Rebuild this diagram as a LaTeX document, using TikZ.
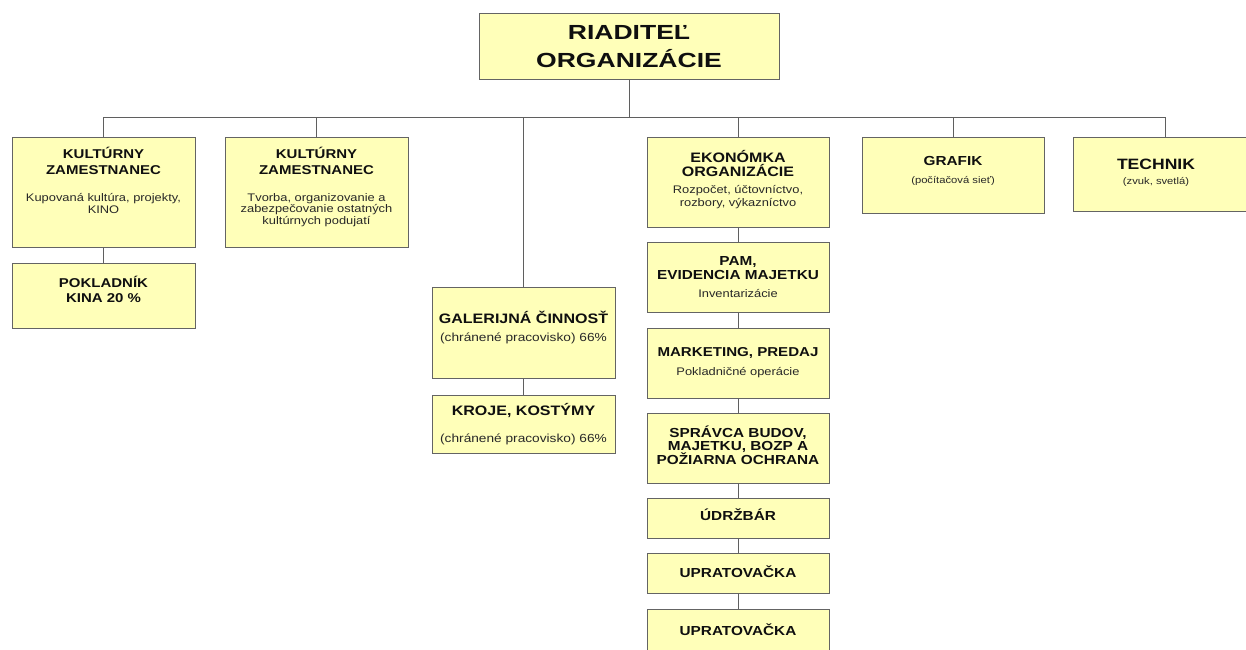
\documentclass[tikz,border=0pt]{standalone}
\usepackage{fontspec}
\setmainfont{Liberation Sans}
\newfontfamily\bodyf[FakeStretch=1.17]{Liberation Sans}
\newfontfamily\titlef[FakeStretch=1.3]{Liberation Sans}
\definecolor{boxfill}{RGB}{255,255,185}
\definecolor{boxdraw}{RGB}{100,100,100}
\definecolor{linec}{RGB}{95,95,95}
\definecolor{txt}{RGB}{15,15,15}
\definecolor{txt2}{RGB}{40,40,40}
\newcommand{\hfs}[2]{\bodyf\bfseries\fontsize{#1}{#2}\selectfont}
\newcommand{\sfs}[2]{\bodyf\fontsize{#1}{#2}\selectfont}
\begin{document}
\begin{tikzpicture}[x=1pt,y=-1pt,
  box/.style={draw=boxdraw, fill=boxfill, line width=1pt, inner sep=0pt, rectangle},
  conn/.style={draw=linec, line width=0.9pt},
  hd/.style={align=center, inner sep=0pt, text=txt, font=\hfs{12.8}{14}},
  sub/.style={align=center, inner sep=0pt, text=txt2, font=\sfs{11}{11.6}},
  ttl/.style={align=center, inner sep=0pt, text=txt, font=\titlef\bfseries\fontsize{20.4}{28}\selectfont}]
\useasboundingbox (0,0) rectangle (1246,649);

% boxes
\node[box, minimum width=300pt, minimum height=66pt] (dir) at (629,46) {};
\node[box, minimum width=183pt, minimum height=110pt] (k1) at (103.5,192) {};
\node[box, minimum width=183pt, minimum height=65pt] (pok) at (103.5,295.5) {};
\node[box, minimum width=183pt, minimum height=110pt] (k2) at (316.5,192) {};
\node[box, minimum width=183pt, minimum height=91pt] (gal) at (523.5,332.5) {};
\node[box, minimum width=183pt, minimum height=58pt] (kro) at (523.5,424) {};
\node[box, minimum width=182pt, minimum height=90pt] (eko) at (738,182) {};
\node[box, minimum width=182pt, minimum height=70pt] (pam) at (738,277) {};
\node[box, minimum width=182pt, minimum height=70pt] (mkt) at (738,363) {};
\node[box, minimum width=182pt, minimum height=70pt] (spr) at (738,448) {};
\node[box, minimum width=182pt, minimum height=40pt] (udr) at (738,518) {};
\node[box, minimum width=182pt, minimum height=40pt] (up1) at (738,573) {};
\node[box, minimum width=182pt, minimum height=46pt] (up2) at (738,632) {};
\node[box, minimum width=182pt, minimum height=76pt] (gra) at (953,175) {};
\node[box, minimum width=189pt, minimum height=74pt] (tec) at (1167.5,174) {};

% connectors
\coordinate (bus) at (629,117);
\draw[conn] (dir.south) -- (bus);
\draw[conn] (bus) -| (k1.north);
\draw[conn] (bus) -| (k2.north);
\draw[conn] (bus) -| (gal.north);
\draw[conn] (bus) -| (eko.north);
\draw[conn] (bus) -| (gra.north);
\draw[conn] (bus) -| (1165,137) coordinate (tecin);
\draw[conn] (k1.south) -- (pok.north);
\draw[conn] (gal.south) -- (kro.north);
\draw[conn] (eko.south) -- (pam.north);
\draw[conn] (pam.south) -- (mkt.north);
\draw[conn] (mkt.south) -- (spr.north);
\draw[conn] (spr.south) -- (udr.north);
\draw[conn] (udr.south) -- (up1.north);
\draw[conn] (up1.south) -- (up2.north);

% texts
\node[ttl, anchor=north] (dirT) at (629,19.5) {\rule{0pt}{19.5pt}RIADITEĽ\\ORGANIZÁCIE};

\node[hd, anchor=north, font=\hfs{12.8}{16.5}] (k1T) at (103.5,146) {\rule{0pt}{12pt}KULTÚRNY\\ZAMESTNANEC};
\node[sub, anchor=north] (k1S) at (103.5,191.5) {\rule{0pt}{10pt}Kupovaná kultúra, projekty,\\KINO};
\node[hd, anchor=north, font=\hfs{12.8}{16.5}] (k2T) at (316.5,146) {\rule{0pt}{12pt}KULTÚRNY\\ZAMESTNANEC};
\node[sub, anchor=north] (k2S) at (316.5,191) {\rule{0pt}{10pt}Tvorba, organizovanie a\\zabezpečovanie ostatných\\kultúrnych podujatí};
\node[hd, anchor=north, font=\hfs{12.8}{15}] (pokT) at (103.5,275) {\rule{0pt}{12pt}POKLADNÍK\\KINA 20 \%};

\node[hd, anchor=base, font=\hfs{13.7}{14}] (galT) at (523.5,323.5) {GALERIJNÁ ČINNOSŤ};
\node[sub, anchor=base, font=\sfs{11.7}{12}] (galS) at (523.5,341.5) {(chránené pracovisko) 66\%};
\node[hd, anchor=base, font=\hfs{13.7}{14}] (kroT) at (523.5,415) {KROJE, KOSTÝMY};
\node[sub, anchor=base, font=\sfs{11.7}{12}] (kroS) at (523.5,442) {(chránené pracovisko) 66\%};

\node[hd, anchor=north, font=\hfs{13.7}{14}] (ekoT) at (738,149.2) {\rule{0pt}{12.8pt}EKONÓMKA\\ORGANIZÁCIE};
\node[sub, anchor=north, font=\sfs{11}{13}] (ekoS) at (738,183) {\rule{0pt}{10pt}Rozpočet, účtovníctvo,\\rozbory, výkazníctvo};
\node[hd, anchor=north, font=\hfs{13.1}{14}] (pamT) at (738,252.7) {\rule{0pt}{12.3pt}PAM,\\EVIDENCIA MAJETKU};
\node[sub, anchor=base] (pamS) at (738,297) {Inventarizácie};
\node[hd, anchor=base, font=\hfs{12.9}{14}] (mktT) at (738,356) {MARKETING, PREDAJ};
\node[sub, anchor=base] (mktS) at (738,375) {Pokladničné operácie};
\node[hd, anchor=north, font=\hfs{13.1}{13}] (sprT) at (738,424.7) {\rule{0pt}{12.3pt}SPRÁVCA BUDOV,\\MAJETKU, BOZP A\\POŽIARNA OCHRANA};
\node[hd, anchor=base, font=\hfs{13.1}{14}] (udrT) at (738,520.5) {ÚDRŽBÁR};
\node[hd, anchor=base, font=\hfs{13.1}{14}] (up1T) at (738,577.5) {UPRATOVAČKA};
\node[hd, anchor=base, font=\hfs{13.1}{14}] (up2T) at (738,635.5) {UPRATOVAČKA};

\node[hd, anchor=base, font=\hfs{13.1}{14}] (graT) at (953,165) {GRAFIK};
\node[sub, anchor=base, font=\sfs{9.6}{10}] (graS) at (953,183) {(počítačová sieť)};
\node[hd, anchor=base, font=\hfs{15}{15}] (tecT) at (1156,169) {TECHNIK};
\node[sub, anchor=base, font=\sfs{9.6}{10}] (tecS) at (1156,184) {(zvuk, svetlá)};
\end{tikzpicture}
\end{document}
